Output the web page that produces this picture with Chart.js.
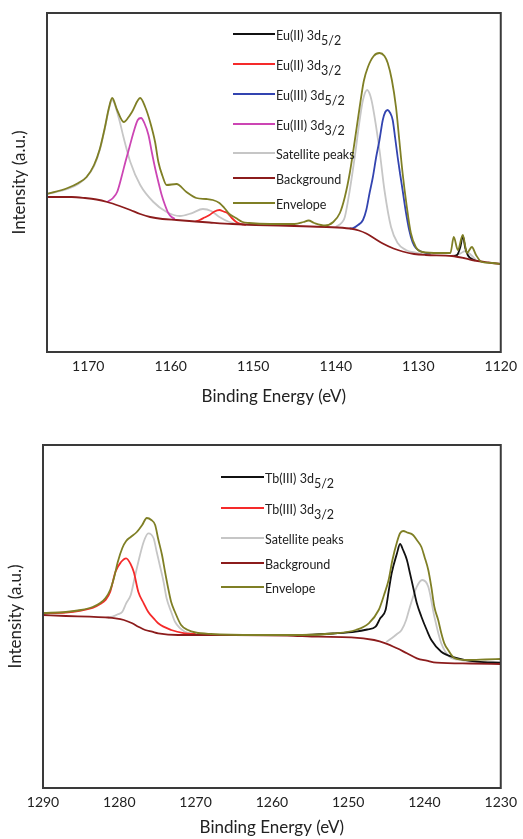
<!DOCTYPE html>
<html>
<head>
<meta charset="utf-8">
<title>XPS Eu 3d / Tb 3d</title>
<script src="https://cdn.jsdelivr.net/npm/chart.js@4.4.1/dist/chart.umd.min.js"></script>
<style>
    html, body { margin: 0; padding: 0; background: #fff; }
    body { width: 523px; height: 839px; position: relative; overflow: hidden; font-family: Lato, 'Open Sans', sans-serif; }
    .box { position: absolute; left: 0; width: 523px; }
    #topBox { top: 0; height: 410px; }
    #botBox { top: 420px; height: 419px; }
    .legend { position: absolute; font-size: 12.5px; color: #222; z-index: 2; }
    .legend .row { position: relative; }
    .legend .sw { position: absolute; left: 0; top: 0; height: 2px; }
    .legend .lbl { position: absolute; top: -4px; white-space: nowrap; line-height: 14px; }
    .legend sub { font-size: 100%; vertical-align: -5px; line-height: 0; }
</style>
</head>
<body>
<div class="box" id="topBox">
    <canvas id="euChart"></canvas>
    <div class="legend" id="euLegend" style="left:233px; top:33px;"></div>
</div>
<div class="box" id="botBox">
    <canvas id="tbChart"></canvas>
    <div class="legend" id="tbLegend" style="left:221px; top:56px;"></div>
</div>
<script>
// ---- Eu 3d spectrum (binding energy eV, intensity a.u.) ----
const euTicks = [1170, 1160, 1150, 1140, 1130, 1120];

const euEnvelope = [
    [1175.0, 158], [1172.5, 164], [1171.2, 169], [1170.2, 175], [1169.3, 187], [1168.6, 203],
    [1168.0, 224], [1167.5, 244], [1167.1, 254], [1166.5, 242], [1165.7, 230], [1165.1, 235],
    [1164.7, 240], [1163.7, 254], [1163.1, 245], [1162.5, 230], [1161.9, 210], [1161.5, 190],
    [1161.0, 176], [1160.5, 167], [1159.3, 168], [1158.1, 160], [1156.9, 154], [1155.7, 153],
    [1154.9, 152], [1154.1, 149], [1153.5, 144], [1152.9, 138], [1152.1, 134], [1151.3, 130],
    [1150.5, 129], [1148.0, 128], [1145.0, 128], [1143.9, 130], [1143.3, 131.5], [1142.6, 129],
    [1141.3, 126.5], [1140.3, 130], [1139.5, 139], [1138.9, 155], [1138.3, 179], [1137.7, 211],
    [1137.1, 245], [1136.6, 271], [1136.1, 285], [1135.4, 296], [1134.7, 299], [1134.1, 296],
    [1133.7, 289], [1133.2, 272], [1132.7, 245], [1132.3, 212], [1131.9, 179], [1131.4, 146],
    [1130.9, 119], [1130.3, 105], [1129.5, 100], [1127.5, 99], [1126.1, 99], [1125.7, 115],
    [1125.2, 102], [1124.6, 117], [1124.1, 99], [1123.5, 105], [1123.0, 97], [1122.3, 90],
    [1121.0, 89], [1120.0, 88]
];

const euBackground = [
    [1175.0, 155], [1172.0, 155], [1170.4, 154], [1169.0, 152.5], [1167.7, 150], [1166.2, 146],
    [1164.9, 142], [1163.7, 138], [1162.5, 135], [1161.0, 133], [1159.3, 132], [1157.0, 130.5],
    [1155.3, 129.5], [1152.5, 128], [1149.7, 127], [1145.0, 126], [1141.1, 125], [1138.3, 123.5],
    [1137.2, 121.5], [1136.3, 118.5], [1135.3, 113.5], [1134.3, 108.5], [1133.0, 103.5],
    [1131.9, 100.5], [1130.5, 98], [1129.1, 97], [1125.9, 96], [1124.5, 94], [1123.5, 92],
    [1121.5, 89.5], [1120.0, 88]
];

const euIII_3d32 = [
    [1167.7, 150], [1167.0, 154], [1166.5, 160], [1166.0, 174], [1165.5, 190], [1165.0, 205],
    [1164.5, 220], [1164.0, 232], [1163.6, 234], [1163.2, 229], [1162.7, 217], [1162.3, 200],
    [1161.9, 184], [1161.5, 170], [1161.1, 157], [1160.7, 147], [1160.3, 139], [1159.9, 135],
    [1159.5, 133]
];

const euIII_3d52 = [
    [1138.3, 123.5], [1137.9, 124], [1137.3, 127], [1136.7, 132], [1136.3, 142], [1135.9, 159],
    [1135.5, 175], [1135.1, 195], [1134.7, 212], [1134.3, 232], [1134.0, 240], [1133.7, 242],
    [1133.4, 239], [1133.1, 232], [1132.8, 214], [1132.5, 195], [1132.2, 178], [1131.9, 162],
    [1131.5, 140], [1131.1, 122], [1130.7, 110], [1130.3, 104], [1129.5, 100], [1128.5, 98]
];

const euII_3d32 = [
    [1157.0, 130.5], [1156.5, 132], [1155.9, 134.5], [1155.3, 137], [1154.7, 140.5], [1154.1, 142],
    [1153.6, 140.5], [1153.1, 138.7], [1152.6, 134], [1152.1, 130.3], [1151.5, 128], [1150.9, 127]
];

const euII_3d52 = [
    [1125.7, 96], [1125.3, 97], [1124.9, 105], [1124.6, 116], [1124.3, 104], [1124.0, 97],
    [1123.7, 94], [1123.1, 91.5]
];

const euSatHigh = [
    [1175.0, 158], [1172.5, 163], [1171.2, 168], [1170.2, 175], [1169.3, 186], [1168.6, 202],
    [1168.0, 223], [1167.5, 243], [1167.1, 252], [1166.3, 234], [1165.7, 214], [1164.9, 190],
    [1163.7, 167], [1162.1, 150], [1160.5, 140], [1158.9, 136], [1157.5, 138.7], [1156.1, 143],
    [1155.1, 141], [1154.1, 135], [1152.9, 130], [1151.3, 127.7], [1149.7, 127]
];

const euSatMid = [
    [1140.0, 125], [1139.2, 130], [1138.9, 135], [1138.3, 162], [1137.7, 195], [1137.1, 232],
    [1136.7, 252], [1136.2, 262], [1135.8, 256], [1135.5, 245], [1134.7, 202], [1134.1, 162],
    [1133.3, 125], [1132.5, 109], [1131.5, 102], [1130.3, 99.3], [1129.5, 98]
];

const euSatLow = [
    [1126.0, 96], [1125.0, 98], [1124.3, 101], [1123.6, 97], [1123.0, 92]
];

// ---- Tb 3d spectrum ----
const tbTicks = [1290, 1280, 1270, 1260, 1250, 1240, 1230];

const tbEnvelope = [
    [1290.0, 175], [1287.0, 176], [1285.0, 178], [1283.5, 181], [1282.5, 185], [1281.8, 190],
    [1281.2, 198], [1280.7, 210], [1280.2, 226], [1279.6, 240], [1279.1, 247], [1278.5, 251],
    [1277.7, 256], [1277.0, 263], [1276.4, 270], [1275.8, 268], [1275.3, 263], [1274.9, 249],
    [1274.4, 233], [1274.0, 216], [1273.6, 200], [1273.2, 186], [1272.7, 176], [1271.9, 163],
    [1271.0, 158], [1270.0, 155.5], [1268.0, 154], [1262.0, 153], [1256.0, 153], [1252.0, 154.5],
    [1249.0, 158], [1247.3, 164.7], [1246.0, 178], [1245.3, 193], [1244.7, 208], [1244.2, 228],
    [1243.6, 246], [1243.2, 254.7], [1242.8, 257], [1242.2, 255.3], [1241.5, 253], [1241.0, 248],
    [1240.4, 241], [1240.0, 231.3], [1239.5, 218], [1239.1, 201], [1238.7, 181], [1238.2, 168],
    [1237.8, 155], [1237.4, 144.7], [1236.9, 138], [1236.1, 130], [1234.4, 128], [1232.0, 128.5],
    [1230.0, 129]
];

const tbBackground = [
    [1290.0, 173], [1287.0, 172], [1283.9, 171.3], [1281.5, 170.5], [1280.5, 169.7], [1279.4, 168],
    [1278.3, 164.7], [1277.5, 161.3], [1276.6, 158], [1275.7, 156.3], [1274.9, 154.7], [1272.3, 153],
    [1265.0, 153], [1258.0, 152.5], [1253.9, 151.3], [1249.6, 150.7], [1246.6, 148], [1245.1, 144.7],
    [1243.6, 139.7], [1242.3, 134.7], [1241.0, 129.7], [1239.7, 127.3], [1238.4, 125.3],
    [1234.0, 124.5], [1230.0, 124]
];

const tbIII_3d32 = [
    [1290.0, 174.7], [1287.0, 175.5], [1285.0, 177.5], [1283.5, 180], [1282.5, 184], [1281.8, 188],
    [1281.2, 196], [1280.5, 216.3], [1279.8, 225.7], [1279.1, 229.7], [1278.5, 223.7], [1278.1, 216],
    [1277.5, 196], [1276.8, 184.7], [1276.2, 176], [1275.5, 169.7], [1274.9, 164.7], [1273.2, 158],
    [1271.4, 154.7], [1270.0, 154]
];

const tbIII_3d52 = [
    [1256.0, 153], [1252.0, 154.5], [1249.0, 156.3], [1247.5, 158.5], [1246.4, 161.3], [1245.8, 169.7],
    [1245.1, 178], [1244.7, 196.3], [1244.3, 214.7], [1243.6, 234.7], [1243.2, 244], [1242.8, 238],
    [1242.3, 228], [1241.9, 214.7], [1241.5, 201.3], [1241.0, 184.7], [1240.4, 171.3], [1239.7, 158],
    [1239.1, 148], [1237.8, 136.3], [1236.1, 130.7], [1233.1, 126.3], [1230.0, 125.3]
];

const tbSatHigh = [
    [1281.5, 170.5], [1280.9, 171.3], [1280.2, 173.7], [1279.6, 176.3], [1279.1, 184.7], [1278.5, 193],
    [1278.0, 209.7], [1277.5, 226.3], [1276.8, 246.3], [1276.2, 254.7], [1275.5, 249.7], [1275.1, 236.3],
    [1274.7, 223], [1274.2, 206.3], [1273.8, 189.7], [1273.2, 176.3], [1272.7, 166.3], [1271.4, 156.3],
    [1270.0, 154]
];

const tbSatLow = [
    [1245.0, 146], [1244.3, 149.7], [1243.6, 154], [1243.0, 158], [1242.4, 168], [1241.9, 181.3],
    [1241.0, 201.3], [1240.3, 208], [1239.5, 201.3], [1238.7, 171.3], [1237.8, 144.7], [1236.7, 131.3],
    [1235.2, 128], [1233.0, 126], [1230.0, 125]
];

// Colours
const C = {
    black: '#111111',
    red: '#f52a2a',
    blue: '#3344b0',
    magenta: '#cc45b4',
    grey: '#c6c6c6',
    bg: '#8c1c1c',
    env: '#7f7f25',
    frame: '#3a3a3a',
    text: '#222222'
};

function toPts(pairs) {
    return pairs.map(p => ({ x: p[0], y: p[1] }));
}

function series(label, pairs, color) {
    return {
        label: label,
        data: toPts(pairs),
        borderColor: color,
        backgroundColor: color,
        borderWidth: 1.8,
        pointRadius: 0,
        showLine: true,
        fill: false,
        cubicInterpolationMode: 'monotone'
    };
}

// Box around the plot area
const framePlugin = {
    id: 'frame',
    afterDraw(chart) {
        const { ctx, chartArea: a } = chart;
        ctx.save();
        ctx.strokeStyle = C.frame;
        ctx.lineWidth = 2;
        ctx.strokeRect(a.left, a.top, a.right - a.left, a.bottom - a.top);
        ctx.restore();
    }
};

function makeChart(id, cfg) {
    const ctx = document.getElementById(id).getContext('2d');
    return new Chart(ctx, {
        type: 'scatter',
        data: { datasets: cfg.datasets },
        plugins: [framePlugin],
        options: {
            responsive: true,
            maintainAspectRatio: false,
            animation: false,
            events: [],
            layout: { padding: cfg.padding },
            plugins: { legend: { display: false }, tooltip: { enabled: false } },
            scales: {
                x: {
                    type: 'linear',
                    min: cfg.xMin,
                    max: cfg.xMax,
                    reverse: true,
                    afterBuildTicks: s => { s.ticks = cfg.ticks.map(v => ({ value: v })); },
                    afterFit: s => { s.height = cfg.xHeight; },
                    grid: { display: false, drawTicks: false },
                    border: { display: false },
                    ticks: {
                        color: C.text,
                        font: { family: 'Lato', size: 14 },
                        padding: 6,
                        maxRotation: 0,
                        autoSkip: false,
                        callback: v => String(v)
                    },
                    title: {
                        display: true,
                        text: 'Binding Energy (eV)',
                        color: C.text,
                        font: { family: 'Lato', size: 17 },
                        padding: { top: 0, bottom: cfg.xTitlePad }
                    }
                },
                y: {
                    min: 0,
                    max: cfg.yMax,
                    afterFit: s => { s.width = cfg.yWidth; },
                    grid: { display: false, drawTicks: false },
                    border: { display: false },
                    ticks: { display: false },
                    title: {
                        display: true,
                        text: 'Intensity (a.u.)',
                        color: C.text,
                        font: { family: 'Lato', size: 17 },
                        padding: { top: cfg.yTitlePad, bottom: 0 }
                    }
                }
            }
        }
    });
}

function buildLegend(id, items, swWidth, rowHeights) {
    const el = document.getElementById(id);
    items.forEach((it, i) => {
        const row = document.createElement('div');
        row.className = 'row';
        row.style.height = rowHeights[i] + 'px';
        row.innerHTML = `<span class="sw" style="width:${swWidth}px;background:${it.color}"></span>` +
            `<span class="lbl" style="left:${swWidth + 1}px">${it.html}</span>`;
        el.appendChild(row);
    });
}

// Top: Eu 3d
makeChart('euChart', {
    datasets: [
        series('Envelope', euEnvelope, C.env),
        series('Background', euBackground, C.bg),
        series('Eu(II) 3d5/2', euII_3d52, C.black),
        series('Eu(II) 3d3/2', euII_3d32, C.red),
        series('Eu(III) 3d5/2', euIII_3d52, C.blue),
        series('Eu(III) 3d3/2', euIII_3d32, C.magenta),
        series('Satellite peaks', euSatHigh, C.grey),
        series('Satellite peaks', euSatMid, C.grey),
        series('Satellite peaks', euSatLow, C.grey)
    ],
    padding: { left: 0, right: 17, top: 13, bottom: 0 },
    xMin: 1120, xMax: 1175, ticks: euTicks, yMax: 339,
    xHeight: 58, yWidth: 47, xTitlePad: 3, yTitlePad: 9
});

buildLegend('euLegend', [
    { color: C.black, html: 'Eu(II) 3d<sub>5/2</sub>' },
    { color: C.red, html: 'Eu(II) 3d<sub>3/2</sub>' },
    { color: C.blue, html: 'Eu(III) 3d<sub>5/2</sub>' },
    { color: C.magenta, html: 'Eu(III) 3d<sub>3/2</sub>' },
    { color: C.grey, html: 'Satellite peaks' },
    { color: C.bg, html: 'Background' },
    { color: C.env, html: 'Envelope' }
], 42, [30, 30, 30, 29, 25, 25, 25]);

// Bottom: Tb 3d
makeChart('tbChart', {
    datasets: [
        series('Envelope', tbEnvelope, C.env),
        series('Background', tbBackground, C.bg),
        series('Tb(III) 3d5/2', tbIII_3d52, C.black),
        series('Tb(III) 3d3/2', tbIII_3d32, C.red),
        series('Satellite peaks', tbSatHigh, C.grey),
        series('Satellite peaks', tbSatLow, C.grey)
    ],
    padding: { left: 0, right: 16, top: 25, bottom: 0 },
    xMin: 1230, xMax: 1290, ticks: tbTicks, yMax: 343,
    xHeight: 51, yWidth: 43, xTitlePad: 1, yTitlePad: 5
});

buildLegend('tbLegend', [
    { color: C.black, html: 'Tb(III) 3d<sub>5/2</sub>' },
    { color: C.red, html: 'Tb(III) 3d<sub>3/2</sub>' },
    { color: C.grey, html: 'Satellite peaks' },
    { color: C.bg, html: 'Background' },
    { color: C.env, html: 'Envelope' }
], 43, [31, 30, 25, 24, 24]);
</script>
</body>
</html>
